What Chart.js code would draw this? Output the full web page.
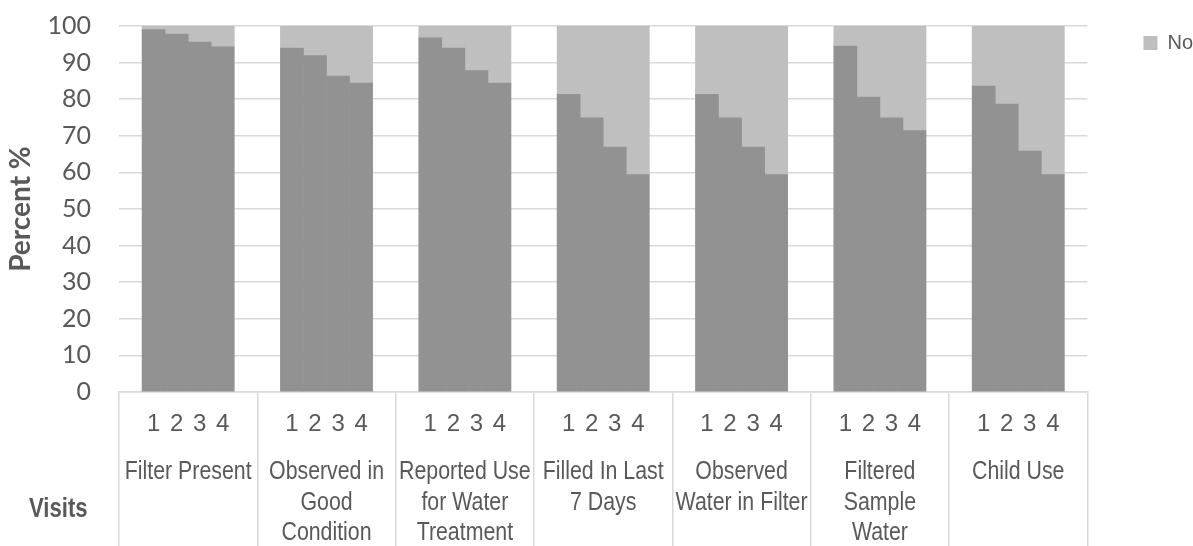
<!DOCTYPE html>
<html>
<head>
<meta charset="utf-8">
<script src="https://cdn.jsdelivr.net/npm/chart.js@4"></script>
<style>
  html, body { margin: 0; padding: 0; background: #ffffff; }
  #wrap { width: 1193px; height: 546px; }
</style>
</head>
<body>
<div id="wrap"><canvas id="chart" width="1193" height="546"></canvas></div>
<script>
// Share of households (%) answering "Yes" at each of the four visits
const groupNames = [
  ['Filter Present'],
  ['Observed in', 'Good', 'Condition'],
  ['Reported Use', 'for Water', 'Treatment'],
  ['Filled In Last', '7 Days'],
  ['Observed', 'Water in Filter'],
  ['Filtered', 'Sample', 'Water'],
  ['Child Use']
];
const visitLabels = ['1', '2', '3', '4'];

const yesFilterPresent   = [99.0, 97.8, 95.6, 94.3];
const yesGoodCondition   = [94.0, 91.9, 86.3, 84.4];
const yesReportedUse     = [96.8, 94.0, 87.8, 84.4];
const yesFilledLast7     = [81.3, 74.9, 66.9, 59.4];
const yesWaterInFilter   = [81.3, 74.9, 66.9, 59.4];
const yesFilteredSample  = [94.5, 80.6, 74.9, 71.4];
const yesChildUse        = [83.6, 78.7, 65.8, 59.4];

const yTickValues = [0, 10, 20, 30, 40, 50, 60, 70, 80, 90, 100];

const yesByGroup = [
  yesFilterPresent, yesGoodCondition, yesReportedUse, yesFilledLast7,
  yesWaterInFilter, yesFilteredSample, yesChildUse
];

// Each group gets an empty slot on either side so the groups stand apart
const slotLabels = [];
const yesData = [];
const noData = [];
groupNames.forEach((name, gi) => {
  slotLabels.push(''); yesData.push(null); noData.push(null);
  visitLabels.forEach((v, vi) => {
    const yes = yesByGroup[gi][vi];
    slotLabels.push(v);
    yesData.push(yes);
    noData.push(Math.round((100 - yes) * 10) / 10);
  });
  slotLabels.push(''); yesData.push(null); noData.push(null);
});
const slotsPerGroup = visitLabels.length + 2;

const TEXT = '#595959';
const GRID = '#d9d9d9';
const CLEAR = 'rgba(0,0,0,0)';
const SANS = "'Liberation Sans', Arial, sans-serif";
const CONDENSE = 0.82;   // horizontal squeeze for the narrow axis lettering

// Draws a line of text squeezed horizontally around its anchor point
function condensedText(ctx, text, x, y) {
  ctx.save();
  ctx.translate(x, y);
  ctx.scale(CONDENSE, 1);
  ctx.fillText(text, 0, 0);
  ctx.restore();
}

const narrowLabels = {
  id: 'narrowLabels',
  afterDraw(chart) {
    const ctx = chart.ctx;
    const s = chart.scales.x2;
    ctx.save();
    ctx.fillStyle = TEXT;
    ctx.textAlign = 'center';
    ctx.textBaseline = 'middle';
    ctx.font = '26px ' + SANS;
    s.ticks.forEach((t, i) => {
      const lines = [].concat(t.label);
      const x = s.getPixelForTick(i);
      lines.forEach((line, li) => condensedText(ctx, line, x, s.top + 32 + li * 30.5));
    });
    // Row caption beside the category labels
    ctx.font = 'bold 27px ' + SANS;
    ctx.textAlign = 'left';
    condensedText(ctx, 'Visits', 29, s.top + 69.5);
    ctx.restore();
  }
};

new Chart(document.getElementById('chart'), {
  type: 'bar',
  data: {
    labels: slotLabels,
    datasets: [
      { label: 'Yes', data: yesData, backgroundColor: '#929292', borderWidth: 0,
        barPercentage: 1, categoryPercentage: 1, stack: 'visit' },
      { label: 'No', data: noData, backgroundColor: '#bfbfbf', borderWidth: 0,
        barPercentage: 1, categoryPercentage: 1, stack: 'visit' }
    ]
  },
  options: {
    responsive: false,
    animation: false,
    layout: { padding: { left: 0, right: -10, top: -23, bottom: 0 } },
    plugins: {
      tooltip: { enabled: false },
      title: {
        display: true, text: '',
        font: { size: 10, lineHeight: 1 },
        padding: { top: 39, bottom: 0 }
      },
      legend: {
        position: 'right',
        align: 'start',
        labels: {
          filter: (item) => item.text === 'No',
          boxWidth: 14, boxHeight: 14,
          padding: 56,
          color: TEXT,
          font: { family: SANS, size: 20 }
        }
      }
    },
    scales: {
      x: {
        type: 'category',
        stacked: true,
        offset: true,
        grid: {
          offset: true,
          drawOnChartArea: false,
          drawTicks: true,
          tickLength: 154,
          lineWidth: 1.5,
          color: (c) => (c.type !== 'tick' || c.index % slotsPerGroup === 0) ? GRID : CLEAR
        },
        border: { display: true, color: GRID, width: 1.5 },
        ticks: {
          autoSkip: false, maxRotation: 0, minRotation: 0,
          padding: -136,
          color: TEXT,
          font: { family: SANS, size: 24, lineHeight: 1.2 }
        },
        afterFit: (s) => { s.height = 48; }
      },
      x2: {
        type: 'category',
        position: 'bottom',
        labels: groupNames,
        offset: true,
        grid: { display: false, drawTicks: false },
        border: { display: false },
        ticks: { display: false, autoSkip: false, maxRotation: 0, minRotation: 0 },
        afterFit: (s) => { s.height = 106; }
      },
      y: {
        stacked: true,
        min: yTickValues[0],
        max: yTickValues[yTickValues.length - 1],
        grid: { color: GRID, lineWidth: 1.5, drawTicks: true, tickLength: 28, tickColor: CLEAR },
        border: { display: false },
        ticks: {
          stepSize: yTickValues[1] - yTickValues[0],
          padding: 0,
          color: TEXT,
          font: { family: "Lato, 'Open Sans', sans-serif", size: 25 }
        },
        title: {
          display: true,
          text: 'Percent %',
          color: TEXT,
          font: { family: "Lato, 'Open Sans', sans-serif", size: 28, weight: 'bold' },
          padding: { top: 4, bottom: 0 }
        },
        afterFit: (s) => { s.width = 119; }
      }
    }
  },
  plugins: [narrowLabels]
});
</script>
</body>
</html>
